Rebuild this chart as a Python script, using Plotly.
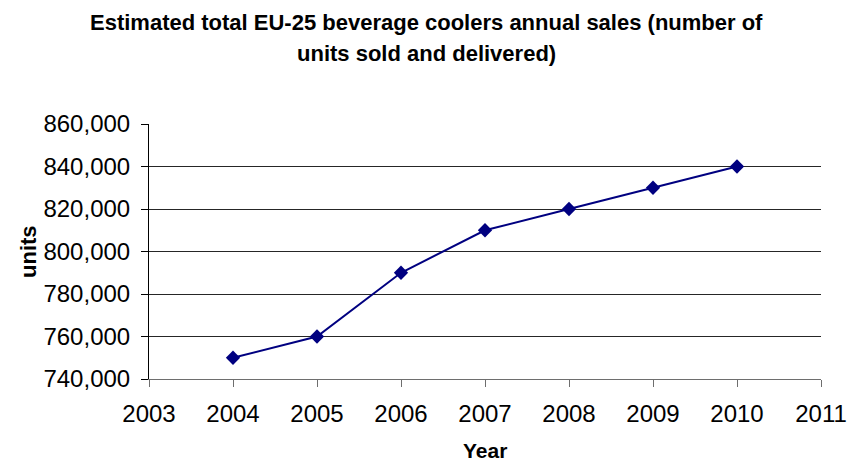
import plotly.graph_objects as go

# Annual sales of beverage coolers in the EU-25
years = [2004, 2005, 2006, 2007, 2008, 2009, 2010]
units_sold = [750000, 760000, 790000, 810000, 820000, 830000, 840000]

title_lines = [
    "Estimated total EU-25 beverage coolers annual sales (number of",
    "units sold and delivered)",
]
x_title = "Year"
y_title = "units"

FONT = "Liberation Sans, Arial, sans-serif"
W, H = 847, 463
L, R, T, B = 149, 26, 124, 84
plot_h = H - T - B
plot_w = W - L - R


def py(pix):
    """Convert a pixel row to paper y."""
    return (H - B - pix) / plot_h


def px(pix):
    """Convert a pixel column to paper x."""
    return (pix - L) / plot_w


fig = go.Figure()
fig.add_trace(go.Scatter(
    x=years,
    y=units_sold,
    mode="lines+markers",
    line=dict(color="#000080", width=2),
    marker=dict(symbol="diamond", size=11, color="#000080"),
    showlegend=False,
))

annotations = [
    dict(text="<b>%s</b>" % title_lines[0], x=px(426), y=py(22)),
    dict(text="<b>%s</b>" % title_lines[1], x=px(426), y=py(53)),
]
for a in annotations:
    a.update(xref="paper", yref="paper", xanchor="center", yanchor="middle",
             showarrow=False, font=dict(family=FONT, size=22, color="black"))

annotations.append(dict(
    text="<b>%s</b>" % x_title, x=px(485), y=py(463), xref="paper", yref="paper",
    xanchor="center", yanchor="bottom", showarrow=False, borderpad=0,
    font=dict(family=FONT, size=21, color="black")))
annotations.append(dict(
    text="<b>%s</b>" % y_title, x=px(28), y=py(252), xref="paper", yref="paper",
    xanchor="center", yanchor="middle", showarrow=False, textangle=-90,
    font=dict(family=FONT, size=22, color="black")))

fig.update_layout(
    width=W, height=H,
    autosize=False,
    margin=dict(l=L, r=R, t=T, b=B),
    paper_bgcolor="white",
    plot_bgcolor="white",
    font=dict(family=FONT, color="black"),
    annotations=annotations,
    xaxis=dict(
        range=[2003, 2011], dtick=1, tick0=2003,
        automargin=False,
        showgrid=False, zeroline=False,
        showline=True, linecolor="#6e6e6e", linewidth=1,
        ticks="outside", ticklen=7, tickcolor="#6e6e6e",
        ticklabelstandoff=6,
        tickfont=dict(size=24, family=FONT, color="black"),
    ),
    yaxis=dict(
        range=[740000, 860000], dtick=20000, tick0=740000,
        tickformat=",",
        automargin=False,
        showgrid=True, gridcolor="#262626", gridwidth=1,
        zeroline=False,
        showline=True, linecolor="black", linewidth=1,
        ticks="outside", ticklen=7, tickcolor="black",
        ticklabelstandoff=6,
        tickfont=dict(size=24, family=FONT, color="black"),
    ),
)

fig.write_html("out.html", config={"responsive": False})
